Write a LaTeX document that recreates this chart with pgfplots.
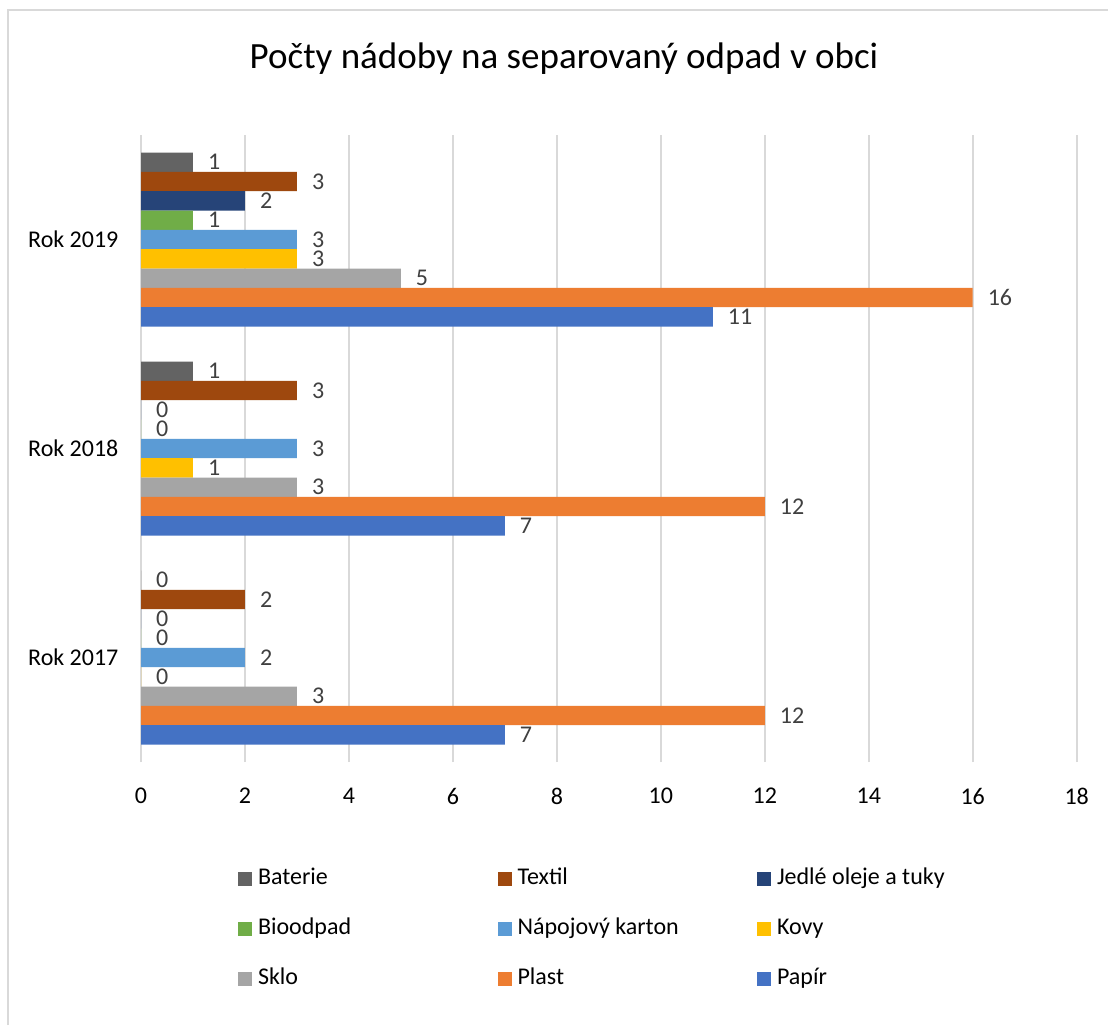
\documentclass[border=0pt]{standalone}
\usepackage{fontspec}
\setmainfont{Carlito}
\usepackage{pgfplots}
\pgfplotsset{compat=1.18}
\definecolor{cBat}{HTML}{636363}
\definecolor{cTex}{HTML}{9E480E}
\definecolor{cJed}{HTML}{264478}
\definecolor{cBio}{HTML}{70AD47}
\definecolor{cNap}{HTML}{5B9BD5}
\definecolor{cKov}{HTML}{FFC000}
\definecolor{cSkl}{HTML}{A5A5A5}
\definecolor{cPla}{HTML}{ED7D31}
\definecolor{cPap}{HTML}{4472C4}
\definecolor{gridc}{HTML}{D9D9D9}
\definecolor{lblc}{HTML}{404040}
\pgfplotsset{mybar/.style={fill=#1, draw=none,
  legend image code/.code={\fill[fill=#1] (0pt,-3.5pt) rectangle (7pt,3.5pt);}}}
\begin{document}
\begin{tikzpicture}
\path[use as bounding box] (0,0) rectangle (554pt,512.5pt);
\fill[white] (0,0) rectangle (554pt,512.5pt);
\draw[color=gridc, line width=0.75pt] (4pt,0) -- (4pt,507.5pt) -- (554pt,507.5pt);
\node[font=\fontsize{18.5}{22}\selectfont, text=black] at (282pt,483pt) {Počty nádoby na separovaný odpad v obci};
\begin{axis}[
  at={(70.5pt,131.5pt)}, anchor=south west,
  scale only axis, width=467.85pt, height=313.5pt,
  xbar, bar width=0.0925,
  xmin=0, xmax=18, ymin=-0.5, ymax=2.5,
  xtick={0,2,...,18},
  ytick={0,1,2}, yticklabels={Rok 2017,Rok 2018,Rok 2019},
  /pgf/number format/assume math mode=true,
  xmajorgrids, major grid style={color=gridc, line width=0.9pt},
  axis line style={draw=none}, tick style={draw=none},
  ticklabel style={font=\fontsize{12}{14}\selectfont, text=black},
  xticklabel style={yshift=-9.5pt},
  yticklabel style={xshift=-3.5pt},
  nodes near coords,
  every node near coord/.append style={anchor=west, xshift=4pt, font=\fontsize{12}{14}\selectfont, text=lblc},
  legend columns=3,
  legend cell align=left,
  legend style={at={(0.1037,-0.1690)}, anchor=north west, draw=none, fill=none,
    inner sep=0pt, outer sep=0pt, row sep=13.5pt, column sep=0pt,
    nodes={text width=116.75pt, inner xsep=3pt, inner ysep=0pt, text height=8.5pt, text depth=3pt, align=flush left, font=\fontsize{12}{14}\selectfont, text=black}},
]
\addplot[mybar=cBat, bar shift=0.37] coordinates {(0,0) (1,1) (1,2)};
\addlegendentry{Baterie}
\addplot[mybar=cTex, bar shift=0.2775] coordinates {(2,0) (3,1) (3,2)};
\addlegendentry{Textil}
\addplot[mybar=cJed, bar shift=0.185] coordinates {(0,0) (0,1) (2,2)};
\addlegendentry{Jedlé oleje a tuky}
\addplot[mybar=cBio, bar shift=0.0925] coordinates {(0,0) (0,1) (1,2)};
\addlegendentry{Bioodpad}
\addplot[mybar=cNap, bar shift=0] coordinates {(2,0) (3,1) (3,2)};
\addlegendentry{Nápojový karton}
\addplot[mybar=cKov, bar shift=-0.0925] coordinates {(0,0) (1,1) (3,2)};
\addlegendentry{Kovy}
\addplot[mybar=cSkl, bar shift=-0.185] coordinates {(3,0) (3,1) (5,2)};
\addlegendentry{Sklo}
\addplot[mybar=cPla, bar shift=-0.2775] coordinates {(12,0) (12,1) (16,2)};
\addlegendentry{Plast}
\addplot[mybar=cPap, bar shift=-0.37] coordinates {(7,0) (7,1) (11,2)};
\addlegendentry{Papír}
\end{axis}
\end{tikzpicture}
\end{document}
